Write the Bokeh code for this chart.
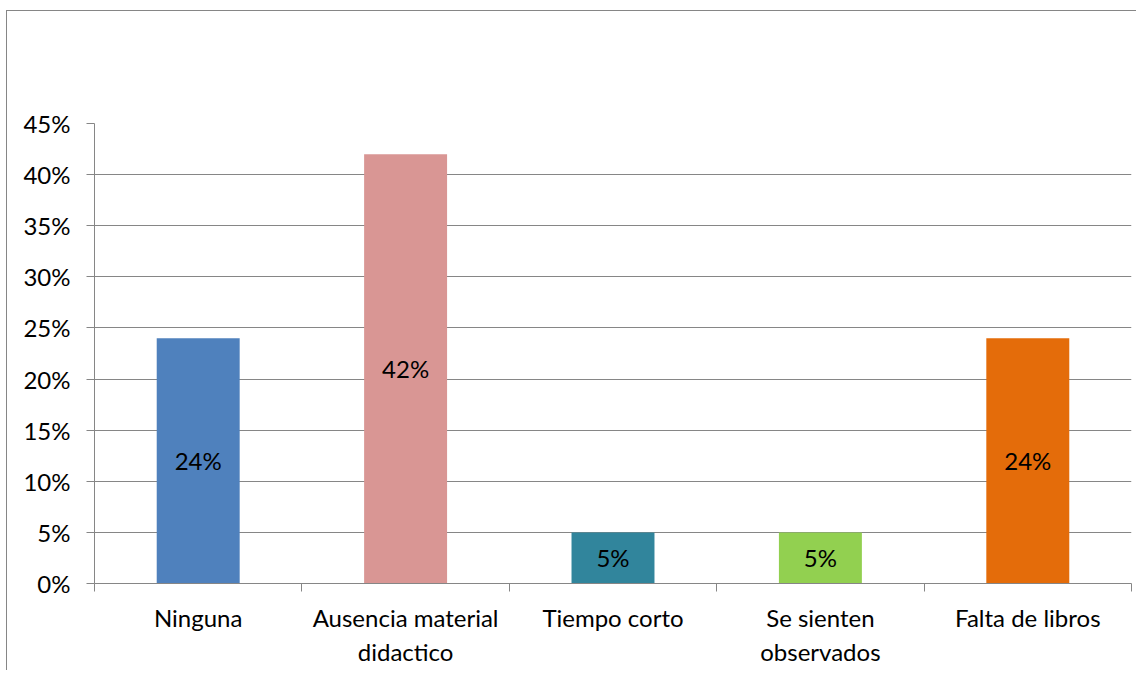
import numpy as np
from bokeh.plotting import figure
from bokeh.models import Range1d, FixedTicker, NumeralTickFormatter, ColumnDataSource
from bokeh.core.properties import value
from bokeh.embed import file_html
from bokeh.resources import INLINE

categories = ["Ninguna", "Ausencia material\ndidactico", "Tiempo corto", "Se sienten\nobservados", "Falta de libros"]
values = [0.24, 0.42, 0.05, 0.05, 0.24]
colors = ["#4F81BD", "#D99694", "#31859C", "#92D050", "#E46C0A"]
y_ticks = [0, 0.05, 0.10, 0.15, 0.20, 0.25, 0.30, 0.35, 0.40, 0.45]

FONT = "Lato"
FS = "24px"
GRAY = "#868686"

n = len(categories)
xs = [i + 0.5 for i in range(n)]
src = ColumnDataSource(dict(
    x=xs, top=values, color=colors,
    mid=[v / 2 for v in values],
    lab=[f"{round(v * 100)}%" for v in values],
))

p = figure(width=1130, height=660, output_backend="svg", toolbar_location=None,
           x_range=Range1d(0, n), y_range=Range1d(0, 0.45),
           min_border_left=87, min_border_top=112, min_border_right=6, min_border_bottom=88)
p.margin = (10, 0, 0, 6)
p.styles = {"border-left": f"1px solid {GRAY}", "border-top": f"1px solid {GRAY}"}
p.outline_line_color = None
p.background_fill_color = "white"
p.border_fill_color = "white"

p.vbar(x="x", top="top", width=0.4, color="color", line_color=None, source=src)
p.text(x="x", y="mid", text="lab", source=src, text_align="center", text_baseline="middle",
       text_font=value(FONT), text_font_size=FS, text_color="black")

# y axis
ya = p.yaxis[0]
ya.ticker = FixedTicker(ticks=y_ticks)
ya.formatter = NumeralTickFormatter(format="0%")
ya.axis_line_color = GRAY
ya.major_tick_line_color = GRAY
ya.major_tick_in = 0
ya.major_tick_out = 8
ya.minor_tick_line_color = None
ya.major_label_text_font = FONT
ya.major_label_text_font_size = FS
ya.major_label_text_color = "black"
ya.major_label_standoff = 16

# x axis
xa = p.xaxis[0]
xa.ticker = FixedTicker(ticks=xs, minor_ticks=list(range(n + 1)))
xa.major_label_overrides = {x: c for x, c in zip(xs, categories)}
xa.axis_line_color = GRAY
xa.major_tick_line_color = None
xa.major_tick_in = 0
xa.major_tick_out = 0
xa.minor_tick_line_color = GRAY
xa.minor_tick_in = 0
xa.minor_tick_out = 8
xa.major_label_text_font = FONT
xa.major_label_text_font_size = FS
xa.major_label_text_color = "black"
xa.major_label_standoff = 11

p.xgrid.grid_line_color = None
p.ygrid.ticker = FixedTicker(ticks=y_ticks)
p.ygrid.grid_line_color = GRAY
p.ygrid.grid_line_width = 1

open("out.html", "w").write(file_html(p, INLINE))
